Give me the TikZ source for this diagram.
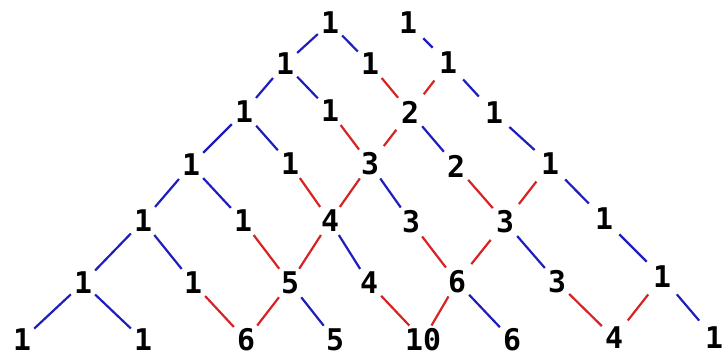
\documentclass[tikz,border=0pt]{standalone}
\usepackage{fontspec}
\newfontfamily\numfont{DejaVu Sans Mono}
\usepackage{xcolor}
\definecolor{pasblue}{RGB}{30,30,190}
\definecolor{pasred}{RGB}{215,35,35}
\usepackage{tikz}
\usetikzlibrary{positioning}

\begin{document}
\begin{tikzpicture}[
    x=0.02cm, y=-0.02cm,
    num/.style={font=\numfont\bfseries\fontsize{17}{17}\selectfont,
                inner sep=1.6pt, text=black},
    copyline/.style={draw=pasblue, line width=1.25pt, shorten >=2.5pt, shorten <=2.5pt},
    sumline/.style={draw=pasred, line width=1.25pt, shorten >=2.5pt, shorten <=2.5pt},
]

\useasboundingbox (0,0) rectangle (724,357);

% ---- Row 0 ----
\node[num] (r0a) at (330,23) {1};
\node[num] (r0b) at (408,23) {1};

% ---- Row 1 ----
\node[num] (r1a) at (285,64) {1};
\node[num] (r1b) at (370,64) {1};
\node[num] (r1c) at (448,63) {1};

% ---- Row 2 ----
\node[num] (r2a) at (244,112) {1};
\node[num] (r2b) at (330,111) {1};
\node[num] (r2c) at (410,112) {2};
\node[num] (r2d) at (494,113) {1};

% ---- Row 3 ----
\node[num] (r3a) at (191,165) {1};
\node[num] (r3b) at (290,164) {1};
\node[num] (r3c) at (370,164) {3};
\node[num] (r3d) at (456,166) {2};
\node[num] (r3e) at (550,164) {1};

% ---- Row 4 ----
\node[num] (r4a) at (143,221) {1};
\node[num] (r4b) at (243,221) {1};
\node[num] (r4c) at (330,221) {4};
\node[num] (r4d) at (411,222) {3};
\node[num] (r4e) at (505,222) {3};
\node[num] (r4f) at (604,219) {1};

% ---- Row 5 ----
\node[num] (r5a) at (83,283) {1};
\node[num] (r5b) at (193,283) {1};
\node[num] (r5c) at (290,283) {5};
\node[num] (r5d) at (369,283) {4};
\node[num] (r5e) at (457,282) {6};
\node[num] (r5f) at (557,282) {3};
\node[num] (r5g) at (662,277) {1};

% ---- Row 6 ----
\node[num] (r6a) at (22,340) {1};
\node[num] (r6b) at (143,340) {1};
\node[num] (r6c) at (246,340) {6};
\node[num] (r6d) at (335,340) {5};
\node[num] (r6e) at (423,340) {10};
\node[num] (r6f) at (512,340) {6};
\node[num] (r6g) at (614,338) {4};
\node[num] (r6h) at (714,338) {1};

% ---- Blue: carried down from one parent ----
\draw[copyline] (r0a) -- (r1a)  (r0a) -- (r1b)  (r0b) -- (r1c);
\draw[copyline] (r1a) -- (r2a)  (r1a) -- (r2b)  (r1c) -- (r2d);
\draw[copyline] (r2a) -- (r3a)  (r2a) -- (r3b)  (r2c) -- (r3d)  (r2d) -- (r3e);
\draw[copyline] (r3a) -- (r4a)  (r3a) -- (r4b)  (r3c) -- (r4d)  (r3e) -- (r4f);
\draw[copyline] (r4a) -- (r5a)  (r4a) -- (r5b)  (r4c) -- (r5d)  (r4e) -- (r5f)  (r4f) -- (r5g);
\draw[copyline] (r5a) -- (r6a)  (r5a) -- (r6b)  (r5c) -- (r6d)  (r5e) -- (r6f)  (r5g) -- (r6h);

% ---- Red: sum of two parents ----
\draw[sumline] (r1b) -- (r2c)  (r1c) -- (r2c);
\draw[sumline] (r2b) -- (r3c)  (r2c) -- (r3c);
\draw[sumline] (r3b) -- (r4c)  (r3c) -- (r4c)  (r3d) -- (r4e)  (r3e) -- (r4e);
\draw[sumline] (r4b) -- (r5c)  (r4c) -- (r5c)  (r4d) -- (r5e)  (r4e) -- (r5e);
\draw[sumline] (r5b) -- (r6c)  (r5c) -- (r6c)  (r5d) -- (r6e)  (r5e) -- (r6e)
               (r5f) -- (r6g)  (r5g) -- (r6g);

\end{tikzpicture}
\end{document}
